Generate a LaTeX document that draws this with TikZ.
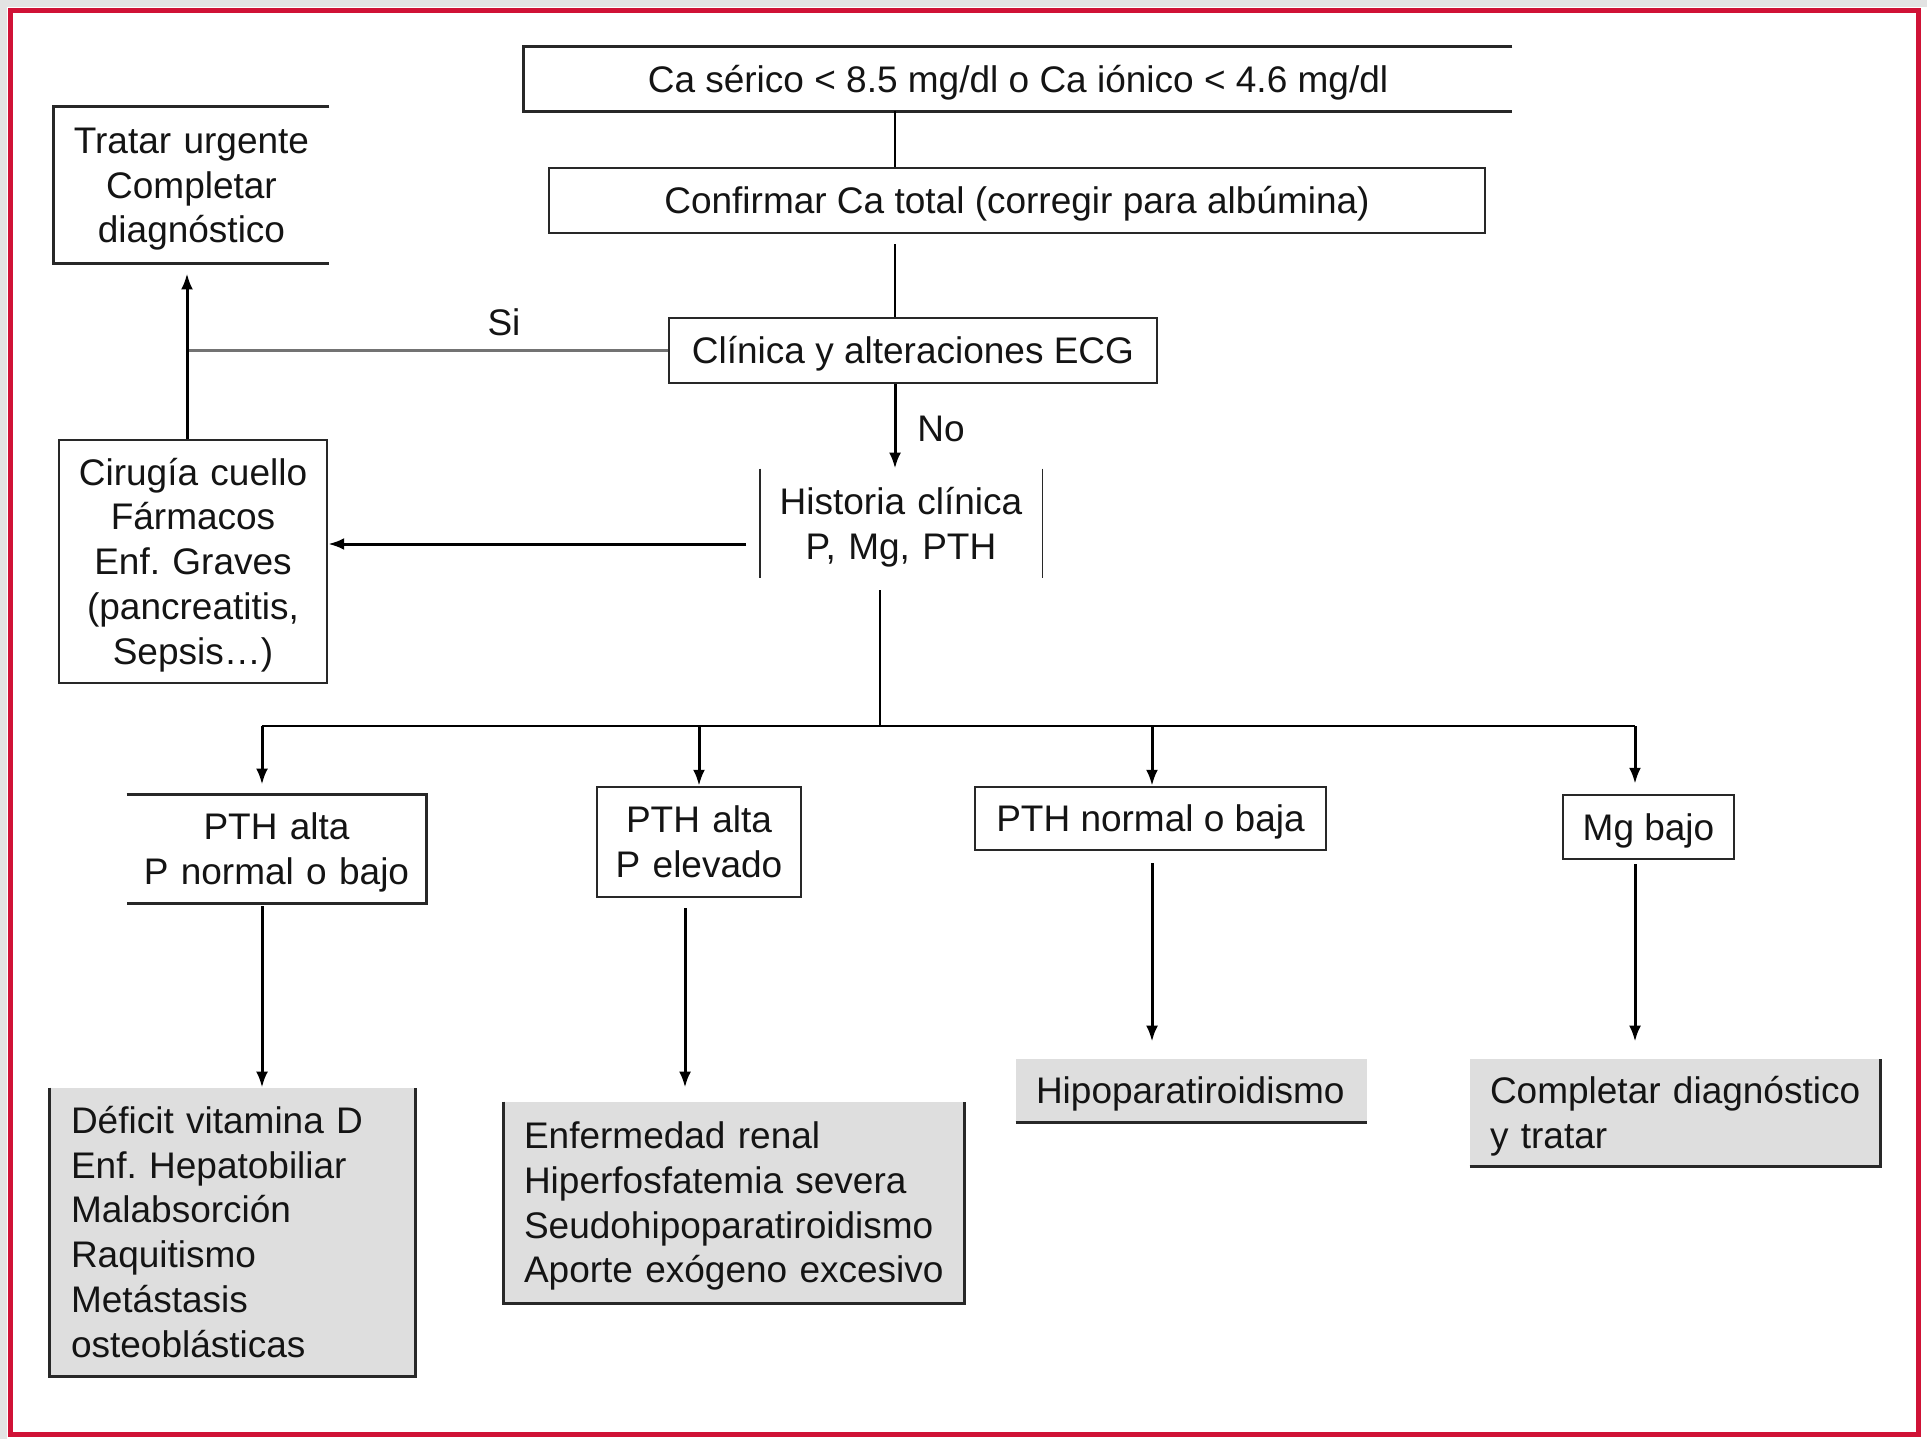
\documentclass[tikz,border=0pt]{standalone}
\usepackage{fontspec}
\setmainfont{Liberation Sans}
\usetikzlibrary{arrows.meta}
\definecolor{framered}{RGB}{208,18,54}
\definecolor{boxgrey}{RGB}{222,222,222}
\definecolor{ink}{RGB}{20,20,20}
\definecolor{edgeink}{RGB}{40,40,40}
\definecolor{siline}{RGB}{115,115,115}

\begin{document}
\begin{tikzpicture}[x=0.5pt,y=-0.5pt,
  txt/.style={font=\fontsize{18.5}{22.4}\selectfont\frenchspacing, text=ink, inner sep=0pt, align=center,
    execute at begin node={\rule[-4.5pt]{0pt}{22.2pt}},
    execute at end node={\rule[-4.5pt]{0pt}{4.5pt}}},
  boxsize/.style 2 args={minimum width=#1*0.5pt, minimum height=#2*0.5pt},
  lines/.style={text width=#1*0.5pt},
  framed/.style={draw=edgeink, line width=1.2pt},
  greybox/.style={fill=boxgrey, align=left, inner ysep=0pt},
  edge/.style={draw=edgeink, line width=1.2pt},
  thinedge/.style={draw=edgeink, line width=0.9pt},
  arrow/.style={draw=black, line width=1.5pt, -{Latex[length=8pt,width=6pt]}},
  link/.style={draw=black, line width=1.2pt},
  sibranch/.style={draw=siline, line width=1.1pt}]

  % canvas and frame
  \useasboundingbox (0,0) rectangle (1927,1439);
  \fill[white] (0,0) rectangle (1927,1439);
  \fill[gray!22] (0,0) rectangle (7,1439);
  \fill[gray!22] (0,0) rectangle (1927,7);
  \draw[framered, line width=2.5pt] (10.5,10.5) rectangle (1918.5,1434.5);

  % column guides
  \coordinate (spine) at (895,0);
  \coordinate (lcol) at (187,351);
  \coordinate (hout) at (746,544);
  \coordinate (drop) at (880,0);
  \coordinate (k1) at (262,726);
  \coordinate (k2) at (699,726);
  \coordinate (k3) at (1152,726);
  \coordinate (k4) at (1635,726);
  \coordinate (c2) at (685,0);

  % upper chain
  \node[txt, boxsize={988}{64}] (top) at (1018,79)
    {Ca sérico < 8.5 mg/dl o Ca iónico < 4.6 mg/dl};
  \node[txt, framed, boxsize={936}{65}] (conf) at (1017,200.5)
    {Confirmar Ca total (corregir para albúmina)};
  \node[txt, framed, boxsize={488}{65}] (clin) at (913,350.5)
    {Clínica y alteraciones ECG};
  \node[txt, lines=275, boxsize={275}{156}] (tr) at (191.5,185)
    {Tratar urgente\\Completar\\diagnóstico};
  \node[txt, framed, lines=266, boxsize={268}{243}] (cir) at (193,561.5)
    {Cirugía cuello\\Fármacos\\Enf. Graves\\(pancreatitis,\\Sepsis\dots)};
  \node[txt, lines=282, boxsize={282}{109}] (hist) at (901,523.5)
    {Historia clínica\\P, Mg, PTH};

  \node[txt] (si) at (504,322) {Si};
  \node[txt] (no) at (941,428) {No};

  % open-sided outlines
  \draw[edge] (top.north east) -- (top.north west) -- (top.south west) -- (top.south east);
  \draw[edge] (tr.north east) -- (tr.north west) -- (tr.south west) -- (tr.south east);
  \draw[thinedge] (hist.north west) -- (hist.south west);
  \draw[thinedge] (hist.north east) -- (hist.south east);

  % second row
  \node[txt, lines=299, boxsize={299}{108}] (b1) at (276.5,849) {PTH alta\\P normal o bajo};
  \node[txt, framed, lines=202, boxsize={204}{110}] (b2) at (699,842) {PTH alta\\P elevado};
  \node[txt, framed, boxsize={351}{63}] (b3) at (1150.5,818.5) {PTH normal o baja};
  \node[txt, framed, boxsize={171}{64}] (b4) at (1648.5,827) {Mg bajo};
  \draw[edge] (b1.north west) -- (b1.north east) -- (b1.south east) -- (b1.south west);

  % outcome boxes
  \node[txt, greybox, boxsize={365}{288}, inner xsep=10.5pt, text width=161.5pt] (g1) at (232.5,1232)
    {Déficit vitamina D\\Enf. Hepatobiliar\\Malabsorción\\Raquitismo\\Metástasis\\osteoblásticas};
  \node[txt, greybox, boxsize={460}{201}, inner xsep=10pt, text width=210pt] (g2) at (734,1202.5)
    {Enfermedad renal\\Hiperfosfatemia severa\\Seudohipoparatiroidismo\\Aporte exógeno excesivo};
  \node[txt, greybox, boxsize={351}{63}, inner xsep=10pt, text width=155.5pt] (g3) at (1191.5,1090.5)
    {Hipoparatiroidismo};
  \node[txt, greybox, boxsize={410}{107}, inner xsep=10pt, text width=185pt] (g4) at (1675,1112.5)
    {\mbox{Completar diagnóstico}\\y tratar};
  \draw[edge] (g1.north west) -- (g1.south west) -- (g1.south east) -- (g1.north east);
  \draw[edge] (g2.north west) -- (g2.south west) -- (g2.south east) -- (g2.north east);
  \draw[edge] (g3.south west) -- (g3.south east);
  \draw[edge] (g4.south west) -- (g4.south east) -- (g4.north east);

  % connectors along the spine
  \draw[link] (top.south -| spine) -- (conf.north -| spine);
  \draw[link, shorten <=5pt] (conf.south -| spine) -- (clin.north -| spine);
  \draw[arrow] (clin.south -| spine) -- (hist.north -| spine);

  % urgent branch
  \draw[sibranch] (clin.west) -- (clin.west -| lcol);
  \draw[arrow, shorten >=5pt] (cir.north -| lcol) -- (tr.south -| lcol);
  \draw[arrow] (hout) -- (hout -| cir.east);

  % fan-out to the four groups
  \draw[link, shorten <=6pt] (hist.south -| drop) -- (k1 -| drop);
  \draw[link] (k1) -- (k4);
  \draw[arrow, shorten >=5pt] (k1) -- (k1 |- b1.north);
  \draw[arrow] (k2) -- (k2 |- b2.north);
  \draw[arrow] (k3) -- (k3 |- b3.north);
  \draw[arrow, shorten >=5pt] (k4) -- (k4 |- b4.north);

  % down to the outcomes
  \draw[arrow, shorten <=1.5pt] (b1.south -| k1) -- (g1.north -| k1);
  \draw[arrow, shorten <=5pt, shorten >=7pt] (b2.south -| c2) -- (g2.north -| c2);
  \draw[arrow, shorten <=6pt, shorten >=8.5pt] (b3.south -| k3) -- (g3.north -| k3);
  \draw[arrow, shorten <=2pt, shorten >=8.5pt] (b4.south -| k4) -- (g4.north -| k4);
\end{tikzpicture}
\end{document}
